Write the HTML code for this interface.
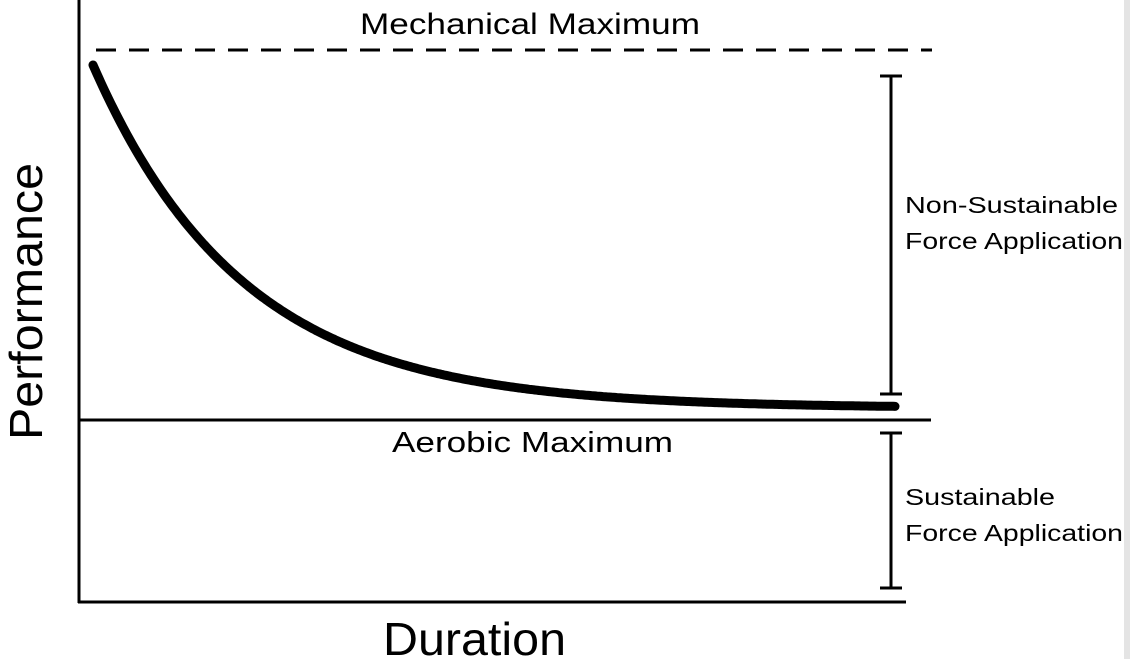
<!DOCTYPE html>
<html><head><meta charset="utf-8"><style>
html,body{margin:0;padding:0;background:#fff;}
</style></head><body>
<svg width="1130" height="659" xmlns="http://www.w3.org/2000/svg" style="display:block;font-family:'Liberation Sans',sans-serif">
<rect width="1130" height="659" fill="#fff"/>
<rect x="1124" y="0" width="6" height="659" fill="#e4e4e4"/>
<line x1="79" y1="0" x2="79" y2="603" stroke="#000" stroke-width="3"/>
<line x1="78" y1="602" x2="906" y2="602" stroke="#000" stroke-width="3"/>
<line x1="78" y1="420" x2="931" y2="420" stroke="#000" stroke-width="3"/>
<line x1="96" y1="50" x2="932" y2="50" stroke="#000" stroke-width="3" stroke-dasharray="20,13"/>
<path id="c" d="" fill="none" stroke="#000" stroke-width="9" stroke-linecap="round" stroke-linejoin="round"/>
<g stroke="#000" stroke-width="3">
<line x1="891" y1="76" x2="891" y2="394"/>
<line x1="880" y1="76" x2="902" y2="76"/>
<line x1="880" y1="394" x2="902" y2="394"/>
<line x1="891" y1="433" x2="891" y2="588"/>
<line x1="880" y1="433" x2="902" y2="433"/>
<line x1="880" y1="588" x2="902" y2="588"/>
</g>
<text x="360" y="34" font-size="30" textLength="340" lengthAdjust="spacingAndGlyphs">Mechanical Maximum</text>
<text x="392" y="452" font-size="29" textLength="281" lengthAdjust="spacingAndGlyphs">Aerobic Maximum</text>
<text x="383" y="655" font-size="46" textLength="183" lengthAdjust="spacingAndGlyphs">Duration</text>
<text transform="translate(42,440) rotate(-90)" font-size="46" textLength="277" lengthAdjust="spacingAndGlyphs">Performance</text>
<g font-size="23">
<text x="905" y="213" textLength="213" lengthAdjust="spacingAndGlyphs">Non-Sustainable</text>
<text x="905" y="249" textLength="218" lengthAdjust="spacingAndGlyphs">Force Application</text>
<text x="905" y="505" textLength="150" lengthAdjust="spacingAndGlyphs">Sustainable</text>
<text x="905" y="541" textLength="218" lengthAdjust="spacingAndGlyphs">Force Application</text>
</g>
</svg>
<script>
var d="";for(var x=93;x<=896;x+=2){var y=408-343*Math.exp(-(x-93)/150);d+=(x==93?"M":"L")+x+","+y.toFixed(1);}
document.getElementById("c").setAttribute("d",d);
</script>
</body></html>
